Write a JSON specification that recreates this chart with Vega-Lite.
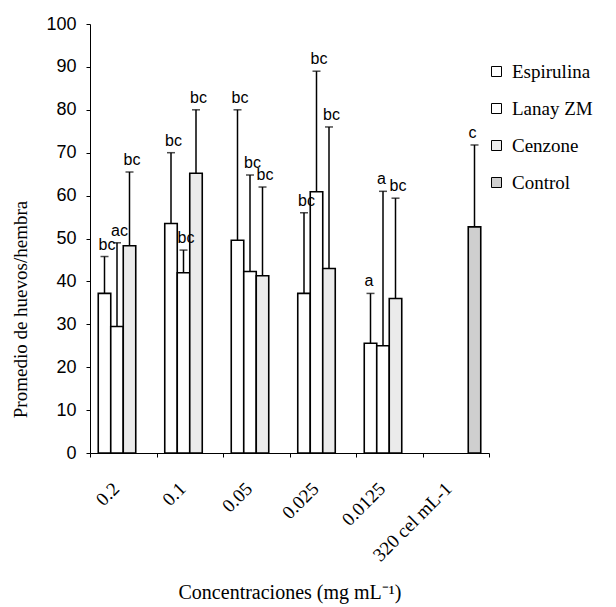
{
  "$schema": "https://vega.github.io/schema/vega-lite/v6.json",
  "width": 399,
  "height": 429,
  "autosize": {"type": "none"},
  "padding": {"left": 90, "top": 24, "right": 127, "bottom": 154},
  "background": "white",
  "config": {
    "view": {"stroke": null},
    "axis": {"grid": false, "domainColor": "black", "tickColor": "black", "labelColor": "black", "titleColor": "black", "titleFontWeight": "normal"},
    "legend": {"padding": 0}
  },
  "data": {
    "values": [
      {"concentracion": "0.2", "tratamiento": "Espirulina", "promedio": 37.2, "superior": 45.8, "letra": "bc"},
      {"concentracion": "0.2", "tratamiento": "Lanay ZM", "promedio": 29.5, "superior": 49.0, "letra": "ac"},
      {"concentracion": "0.2", "tratamiento": "Cenzone", "promedio": 48.3, "superior": 65.5, "letra": "bc"},
      {"concentracion": "0.1", "tratamiento": "Espirulina", "promedio": 53.5, "superior": 70.0, "letra": "bc"},
      {"concentracion": "0.1", "tratamiento": "Lanay ZM", "promedio": 42.0, "superior": 47.3, "letra": "bc"},
      {"concentracion": "0.1", "tratamiento": "Cenzone", "promedio": 65.2, "superior": 80.0, "letra": "bc"},
      {"concentracion": "0.05", "tratamiento": "Espirulina", "promedio": 49.6, "superior": 80.0, "letra": "bc"},
      {"concentracion": "0.05", "tratamiento": "Lanay ZM", "promedio": 42.3, "superior": 64.8, "letra": "bc"},
      {"concentracion": "0.05", "tratamiento": "Cenzone", "promedio": 41.3, "superior": 62.0, "letra": "bc"},
      {"concentracion": "0.025", "tratamiento": "Espirulina", "promedio": 37.2, "superior": 56.0, "letra": "bc"},
      {"concentracion": "0.025", "tratamiento": "Lanay ZM", "promedio": 60.9, "superior": 89.0, "letra": "bc"},
      {"concentracion": "0.025", "tratamiento": "Cenzone", "promedio": 43.0, "superior": 76.0, "letra": "bc"},
      {"concentracion": "0.0125", "tratamiento": "Espirulina", "promedio": 25.6, "superior": 37.2, "letra": "a"},
      {"concentracion": "0.0125", "tratamiento": "Lanay ZM", "promedio": 25.0, "superior": 61.0, "letra": "a"},
      {"concentracion": "0.0125", "tratamiento": "Cenzone", "promedio": 36.0, "superior": 59.4, "letra": "bc"},
      {"concentracion": "320 cel mL-1", "tratamiento": "Control", "promedio": 52.7, "superior": 71.8, "letra": "c"}
    ]
  },
  "encoding": {
    "x": {
      "field": "concentracion",
      "type": "nominal",
      "sort": ["0.2", "0.1", "0.05", "0.025", "0.0125", "320 cel mL-1"],
      "scale": {"paddingInner": 0, "paddingOuter": 0},
      "axis": {
        "title": "Concentraciones (mg mL⁻¹)",
        "titleFont": "Liberation Serif",
        "titleFontSize": 20,
        "titleY": 139,
        "titleBaseline": "middle",
        "labelAngle": -45,
        "labelAlign": "right",
        "labelBaseline": "top",
        "labelOffset": -14,
        "labelPadding": 22,
        "labelFont": "Liberation Serif",
        "labelFontSize": 19,
        "tickBand": "extent",
        "tickSize": 4
      }
    },
    "xOffset": {
      "field": "tratamiento",
      "type": "nominal",
      "scale": {"domain": ["Espirulina", "Lanay ZM", "Cenzone", "Control"], "paddingInner": 0, "paddingOuter": 0.66}
    }
  },
  "layer": [
    {
      "mark": {"type": "bar", "stroke": "black", "strokeWidth": 1.6},
      "encoding": {
        "y": {
          "field": "promedio",
          "type": "quantitative",
          "scale": {"domain": [0, 100]},
          "axis": {
            "values": [0, 10, 20, 30, 40, 50, 60, 70, 80, 90, 100],
            "title": "Promedio de huevos/hembra",
            "titleFont": "Liberation Serif",
            "titleFontSize": 19,
            "titleX": -70,
            "titleY": 285,
            "titleAlign": "center",
            "titleBaseline": "middle",
            "labelFont": "Liberation Sans",
            "labelFontSize": 18,
            "labelPadding": 10,
            "tickSize": 4
          }
        },
        "fill": {
          "field": "tratamiento",
          "type": "nominal",
          "scale": {"domain": ["Espirulina", "Lanay ZM", "Cenzone", "Control"], "range": ["#ffffff", "#ffffff", "#ebebeb", "#cfcfcf"]},
          "legend": {
            "title": null,
            "orient": "none",
            "legendX": 397,
            "legendY": 38,
            "symbolType": "square",
            "symbolSize": 100,
            "symbolStrokeColor": "black",
            "symbolStrokeWidth": 1,
            "labelFont": "Liberation Serif",
            "labelFontSize": 19,
            "labelColor": "black",
            "rowPadding": 17,
            "labelOffset": 6
          }
        }
      }
    },
    {
      "mark": {"type": "rule", "color": "black", "strokeWidth": 1.5},
      "encoding": {
        "y": {"field": "promedio", "type": "quantitative"},
        "y2": {"field": "superior"}
      }
    },
    {
      "mark": {"type": "tick", "color": "black", "thickness": 1.5, "size": 8},
      "encoding": {
        "y": {"field": "superior", "type": "quantitative"}
      }
    },
    {
      "mark": {"type": "text", "align": "left", "baseline": "bottom", "dx": -6, "dy": -4, "font": "Liberation Sans", "fontSize": 16, "color": "black"},
      "encoding": {
        "y": {"field": "superior", "type": "quantitative"},
        "text": {"field": "letra"}
      }
    }
  ]
}
